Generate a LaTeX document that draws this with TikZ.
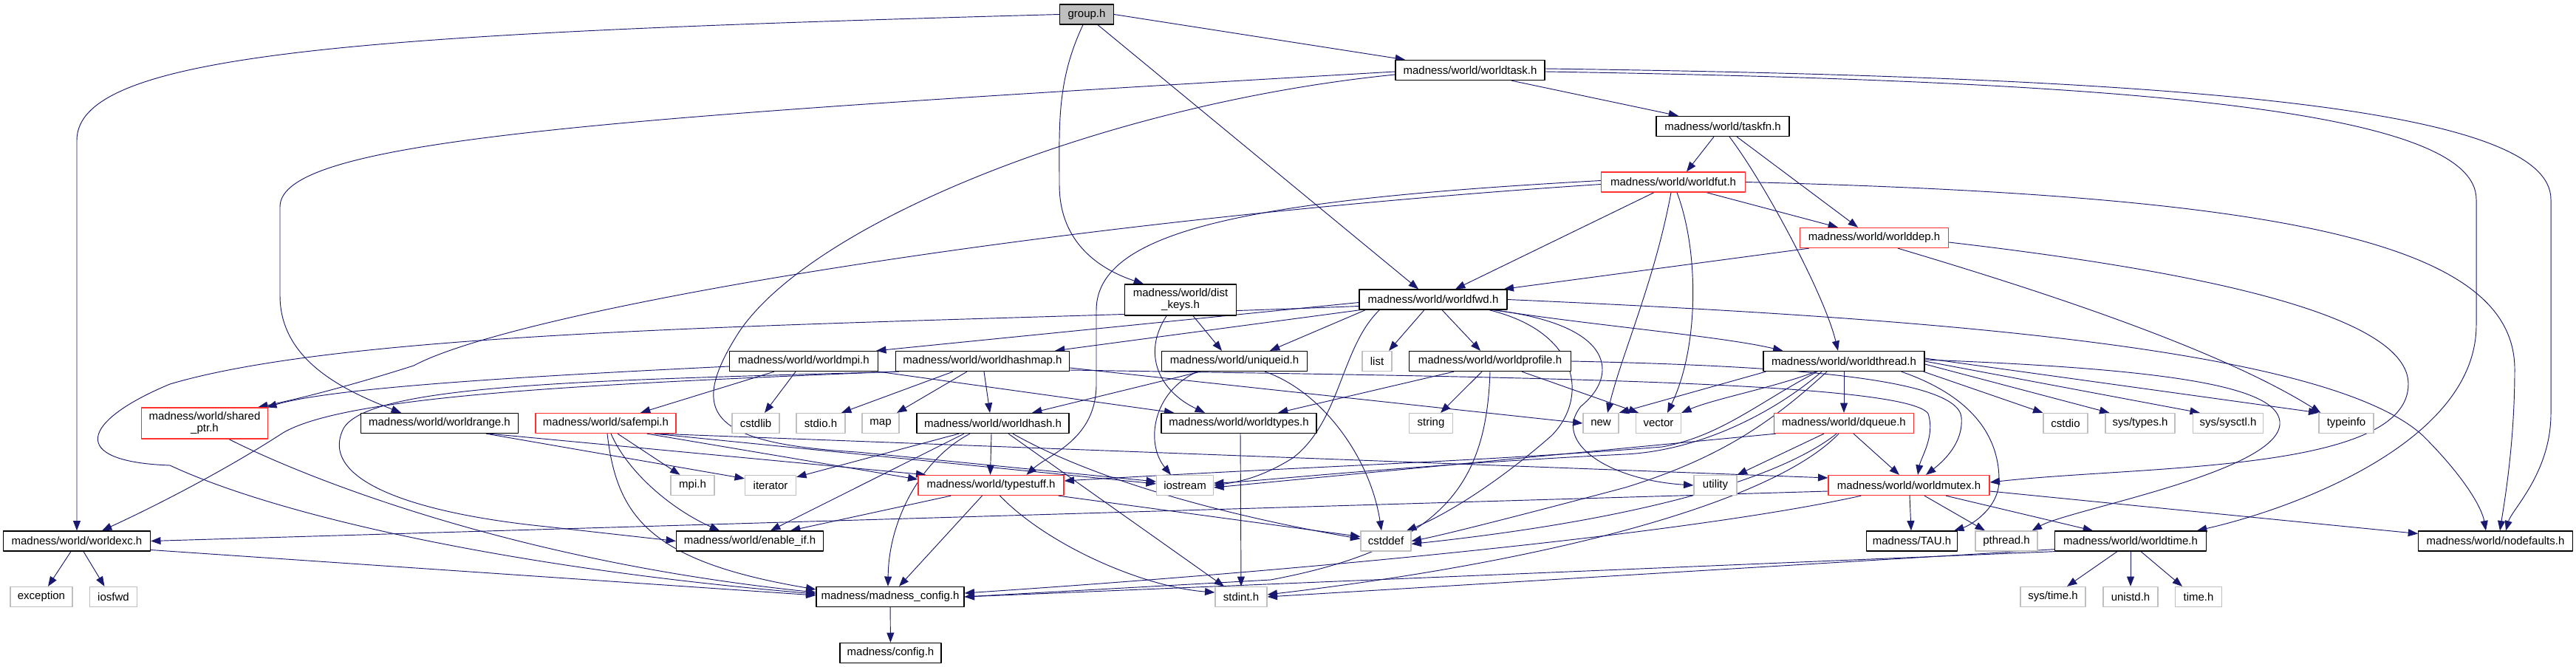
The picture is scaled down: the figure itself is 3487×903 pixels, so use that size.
\documentclass[tikz,border=0pt]{standalone}
\usepackage{fontspec}
\setmainfont{Liberation Sans}
\usetikzlibrary{calc, positioning}
\usetikzlibrary{arrows.meta}

\definecolor{edgeblue}{HTML}{191970}
\definecolor{redline}{HTML}{FF3030}
\definecolor{sysgray}{HTML}{BFBFBF}
\definecolor{rootfill}{HTML}{BFBFBF}
\newcommand{\hdrfont}{\fontsize{12.8}{13.8}\selectfont}

\pgfdeclarelayer{bg}
\pgfdeclarelayer{edges}
\pgfsetlayers{bg,edges,main}

\tikzset{
  hdr/.style={rectangle, draw=black, line width=1.1pt, fill=white,
    minimum height=0.81cm, minimum width=#1*0.03cm, inner sep=1pt, font=\hdrfont},
  redhdr/.style={hdr=#1, draw=redline},
  syshdr/.style={hdr=#1, draw=sysgray},
  dep/.style={draw=edgeblue, line width=0.8pt, -{Triangle[length=0.4cm,width=0.3cm]}},
}

\begin{document}
\begin{tikzpicture}[x=0.03cm,y=-0.03cm,line cap=round,line join=round]
\path[use as bounding box] (0,0) rectangle (3487,903);
\begin{pgfonlayer}{bg}
\fill[white] (0,0) rectangle (3487,903);
\end{pgfonlayer}

% rows of headers
\node[hdr=73, fill=rootfill] (grp) at (1471,19.5) {group.h};
\node[hdr=202] (wtask) at (1990,95) {madness/world/worldtask.h};
\node[hdr=180] (taskfn) at (2332,171) {madness/world/taskfn.h};
\node[redhdr=195] (wfut) at (2265,246.5) {madness/world/worldfut.h};
\node[redhdr=201] (wdep) at (2537,322) {madness/world/worlddep.h};
\node[hdr=151, minimum height=1.26cm, align=center] (distkeys) at (1598,406) {madness/world/dist\\\_keys.h};
\node[hdr=200] (wfwd) at (1940,405.5) {madness/world/worldfwd.h};

\node[hdr=201] (wmpi) at (1088,489) {madness/world/worldmpi.h};
\node[hdr=235] (whashmap) at (1330,489) {madness/world/worldhashmap.h};
\node[hdr=197] (uniqueid) at (1671,489) {madness/world/uniqueid.h};
\node[syshdr=40] (lst) at (1864,489) {list};
\node[hdr=219] (wprofile) at (2017,489) {madness/world/worldprofile.h};
\node[hdr=218] (wthread) at (2496,489) {madness/world/worldthread.h};

\node[redhdr=171, minimum height=1.26cm, align=center] (sharedptr) at (277,573) {madness/world/shared\\\_ptr.h};
\node[hdr=213] (wrange) at (595,573) {madness/world/worldrange.h};
\node[redhdr=190] (safempi) at (820,573) {madness/world/safempi.h};
\node[syshdr=64] (cstdlib) at (1023,573) {cstdlib};
\node[syshdr=66] (stdioh) at (1111,573) {stdio.h};
\node[syshdr=50] (mapn) at (1192,573) {map};
\node[hdr=206] (whash) at (1344,573) {madness/world/worldhash.h};
\node[hdr=210] (wtypes) at (1677,573) {madness/world/worldtypes.h};
\node[syshdr=59] (stringn) at (1937,573) {string};
\node[syshdr=48] (newn) at (2167,573) {new};
\node[syshdr=61] (vectorn) at (2245,573) {vector};
\node[redhdr=189] (dqueue) at (2496,573) {madness/world/dqueue.h};
\node[syshdr=60] (cstdio) at (2796,573) {cstdio};
\node[syshdr=94] (systypes) at (2897,573) {sys/types.h};
\node[syshdr=95] (syssysctl) at (3016,573) {sys/sysctl.h};
\node[syshdr=74] (typeinfo) at (3176,573) {typeinfo};

\node[syshdr=59] (mpih) at (937.5,657) {mpi.h};
\node[syshdr=69] (iterator) at (1043,657) {iterator};
\node[redhdr=197] (typestuff) at (1341.5,657) {madness/world/typestuff.h};
\node[syshdr=77] (iostream) at (1604,657) {iostream};
\node[syshdr=58] (utility) at (2322,657) {utility};
\node[redhdr=218] (wmutex) at (2584,657) {madness/world/worldmutex.h};

\node[hdr=199] (wexc) at (104,732.5) {madness/world/worldexc.h};
\node[hdr=199] (enableif) at (1015,732.5) {madness/world/enable\_if.h};
\node[syshdr=68] (cstddef) at (1876,732.5) {cstddef};
\node[hdr=123] (tau) at (2588,732.5) {madness/TAU.h};
\node[syshdr=84] (pthread) at (2716,732.5) {pthread.h};
\node[hdr=204.5] (wtime) at (2884,732.5) {madness/world/worldtime.h};
\node[hdr=208.5] (nodefaults) at (3378,732.5) {madness/world/nodefaults.h};

\node[syshdr=84] (exception) at (56,808) {exception};
\node[syshdr=63.5] (iosfwd) at (153.5,808) {iosfwd};
\node[hdr=200] (mconfig) at (1205,808) {madness/madness\_config.h};
\node[syshdr=70] (stdint) at (1680,808) {stdint.h};
\node[syshdr=88] (systime) at (2779,808) {sys/time.h};
\node[syshdr=74] (unistd) at (2884,808) {unistd.h};
\node[syshdr=63] (timeh) at (2976,808) {time.h};

\node[hdr=137] (config) at (1205.5,884) {madness/config.h};

\begin{pgfonlayer}{edges}
% group.h
\draw[dep] (grp.west) .. controls (500,45) and (104,70) .. (104,190) -- (wexc.north);
\draw[dep] ($(grp.south)+(-5,0)$) .. controls (1430,110) and (1434,170) .. (1434,250)
  .. controls (1434,330) and (1490,365) .. ($(distkeys.north)+(-50,0)$);
\draw[dep] ($(grp.south)+(15,0)$) -- ($(wfwd.north)+(-20,0)$);
\draw[dep] (grp.east) -- ($(wtask.north)+(-88,0)$);

% worldtask.h
\draw[dep] ($(wtask.west)+(0,2)$) .. controls (800,160) and (379,190) .. (379,280) -- (379,400)
  .. controls (379,490) and (470,530) .. ($(wrange.north)+(-52,0)$);
\draw[dep] ($(wtask.west)+(0,6)$) .. controls (1500,140) and (1100,300) .. (1000,450)
  .. controls (930,560) and (960,600) .. (1160,612) -- ($(iostream.west)+(0,-5)$);
\draw[dep] ($(wtask.south)+(56,0)$) -- ($(taskfn.north)+(-60,0)$);
\draw[dep] ($(wtask.east)+(0,2)$) .. controls (2900,110) and (3352,150) .. (3352,270) -- (3352,440)
  .. controls (3352,600) and (3100,690) .. ($(wtime.north)+(90,0)$);
\draw[dep] ($(wtask.east)+(0,-2)$) .. controls (3000,105) and (3453,150) .. (3453,270) -- (3453,560)
  .. controls (3453,640) and (3400,690) .. ($(nodefaults.north)+(14,0)$);

% taskfn.h
\draw[dep] ($(taskfn.south)+(-12,0)$) -- ($(wfut.north)+(18,0)$);
\draw[dep] ($(taskfn.south)+(19,0)$) -- ($(wdep.north)+(-22,0)$);
\draw[dep] ($(taskfn.south)+(9,0)$) .. controls (2390,250) and (2470,400) .. ($(wthread.north)+(-8,0)$);

% worldfut.h
\draw[dep] ($(wfut.south)+(-26,0)$) -- ($(wfwd.north)+(30,0)$);
\draw[dep] ($(wfut.south)+(45,0)$) -- ($(wdep.north)+(-49,0)$);
\draw[dep] ($(wfut.west)+(0,-2)$) .. controls (1700,270) and (1484,310) .. (1484,420) -- (1484,520)
  .. controls (1484,595) and (1420,615) .. ($(typestuff.north)+(48,0)$);
\draw[dep] ($(wfut.west)+(0,3)$) .. controls (1400,300) and (700,420) .. (560,495)
  .. controls (450,530) and (380,545) .. ($(sharedptr.north east)+(-14,0)$);
\draw[dep] ($(wfut.south)+(-3,0)$) .. controls (2240,380) and (2195,480) .. ($(newn.north)+(9,0)$);
\draw[dep] ($(wfut.south)+(5,0)$) .. controls (2300,340) and (2300,470) .. ($(vectorn.north)+(12,0)$);
\draw[dep] (wfut.east) .. controls (3100,265) and (3404,330) .. (3404,500)
  .. controls (3404,600) and (3390,680) .. ($(nodefaults.north)+(6,0)$);

% worlddep.h
\draw[dep] ($(wdep.south west)+(13,0)$) -- ($(wfwd.north east)+(-5,0)$);
\draw[dep] ($(wdep.south)+(32,0)$) .. controls (2750,390) and (3000,470) .. ($(typeinfo.north west)+(3,0)$);
\draw[dep] ($(wdep.east)+(0,6)$) .. controls (3000,370) and (3260,430) .. (3260,520)
  .. controls (3260,640) and (2900,630) .. ($(wmutex.east)+(0,-4)$);

% dist_keys.h
\draw[dep] ($(distkeys.south)+(17,0)$) -- ($(uniqueid.north)+(-17,0)$);
\draw[dep] ($(distkeys.south)+(-19,0)$) .. controls (1545,480) and (1570,530) .. ($(wtypes.north)+(-46,0)$);

% worldfwd.h
\draw[dep] ($(wfwd.west)+(0,4)$) -- ($(wmpi.north east)+(-3,0)$);
\draw[dep] ($(wfwd.south west)+(2,0)$) -- ($(whashmap.north)+(98,0)$);
\draw[dep] ($(wfwd.west)+(0,9)$) .. controls (1200,440) and (500,440) .. (230,520)
  .. controls (110,570) and (90,625) .. (230,630)
  .. controls (380,700) and (700,770) .. ($(mconfig.west)+(0,-4)$);
\draw[dep] ($(wfwd.south west)+(9,0)$) -- ($(uniqueid.north)+(48,0)$);
\draw[dep] ($(wfwd.south)+(-12,0)$) -- ($(lst.north)+(16,0)$);
\draw[dep] ($(wfwd.south)+(12,0)$) -- ($(wprofile.north)+(-13,0)$);
\draw[dep] ($(wfwd.south east)+(-18,0)$) .. controls (2150,440) and (2330,455) .. ($(wthread.north west)+(27,0)$);
\draw[dep] ($(wfwd.south east)+(-25,0)$) .. controls (2140,450) and (2150,540) .. (2100,590)
  .. controls (2020,660) and (1950,700) .. ($(cstddef.north)+(28,0)$);
\draw[dep] ($(wfwd.south east)+(-20,0)$) .. controls (2190,440) and (2190,510) .. (2140,550)
  .. controls (2100,600) and (2180,650) .. (utility.west);
\draw[dep] ($(wfwd.south west)+(28,0)$) .. controls (1815,470) and (1815,570) .. (1750,620)
  .. controls (1710,645) and (1680,652) .. (iostream.east);
\draw[dep] (wfwd.east) .. controls (2600,430) and (3150,470) .. (3280,590)
  .. controls (3340,650) and (3360,690) .. ($(nodefaults.north)+(-13,0)$);

% worldmpi.h
\draw[dep] ($(wmpi.south west)+(61,0)$) -- ($(safempi.north)+(47,0)$);
\draw[dep] ($(wmpi.south)+(-11,0)$) -- ($(cstdlib.north)+(12,0)$);
\draw[dep] (wmpi.south east) -- ($(wtypes.north west)+(18,0)$);
\draw[dep] ($(wmpi.west)+(0,7)$) .. controls (700,510) and (450,525) .. ($(sharedptr.north east)+(-2,0)$);

% worldhashmap.h
\draw[dep] ($(whashmap.south)+(-21,0)$) -- ($(mapn.north)+(22,0)$);
\draw[dep] ($(whashmap.south)+(-40,0)$) -- ($(stdioh.north)+(28,0)$);
\draw[dep] ($(whashmap.south)+(2,0)$) -- ($(whash.north)+(-4,0)$);
\draw[dep] ($(whashmap.east)+(0,9)$) -- (newn.west);
\draw[dep] ($(whashmap.east)+(0,12)$) .. controls (2000,510) and (2580,515) .. (2610,560)
  .. controls (2620,590) and (2600,620) .. ($(wmutex.north)+(12,0)$);
\draw[dep] (whashmap.south west) .. controls (800,520) and (470,535) .. (383,586)
  .. controls (300,640) and (200,690) .. ($(wexc.north)+(34,0)$);
\draw[dep] ($(whashmap.south west)+(5,0)$) .. controls (800,515) and (500,520) .. (465,580)
  .. controls (430,650) and (560,695) .. (740,713) -- (enableif.west);

% uniqueid.h
\draw[dep] ($(uniqueid.south)+(-46,0)$) -- ($(whash.north)+(53,0)$);
\draw[dep] ($(uniqueid.south)+(-50,0)$) .. controls (1560,530) and (1550,600) .. ($(iostream.north)+(-19,0)$);
\draw[dep] ($(uniqueid.south east)+(-58,0)$) .. controls (1790,530) and (1855,620) .. ($(cstddef.north)+(-6,0)$);

% worldprofile.h
\draw[dep] ($(wprofile.south)+(-11,0)$) -- ($(stringn.north)+(13,0)$);
\draw[dep] ($(wprofile.south)+(43,0)$) -- ($(vectorn.north)+(-27,0)$);
\draw[dep] ($(wprofile.south)+(-49,0)$) -- ($(wtypes.north)+(53,0)$);
\draw[dep] (wprofile.east) .. controls (2400,495) and (2650,510) .. (2655,565)
  .. controls (2658,600) and (2630,625) .. ($(wmutex.north)+(23,0)$);
\draw[dep] (wprofile.south) .. controls (2012,650) and (1960,740) .. (1720,785) -- (mconfig.east);

% worldthread.h
\draw[dep] (wthread) -- (dqueue);
\draw[dep] ($(wthread.south east)+(-2,0)$) -- (cstdio.north west);
\draw[dep] ($(wthread.east)+(0,4)$) -- ($(systypes.north west)+(6,0)$);
\draw[dep] (wthread.east) -- ($(syssysctl.north west)+(10,0)$);
\draw[dep] ($(wthread.east)+(0,-4)$) -- (typeinfo.north west);
\draw[dep] ($(wthread.east)+(0,-2)$) .. controls (2950,500) and (3090,525) .. (3086,575)
  .. controls (3080,640) and (2800,690) .. ($(pthread.north east)+(-8,0)$);
\draw[dep] ($(wthread.south east)+(-32,0)$) .. controls (2680,540) and (2706,600) .. (2706,650)
  .. controls (2706,690) and (2665,712) .. ($(tau.north east)+(-5,0)$);
\draw[dep] ($(wthread.south west)+(4,0)$) -- (newn.north east);
\draw[dep] ($(wthread.south)+(-38,0)$) .. controls (2400,525) and (2320,540) .. (vectorn.north east);
\draw[dep] ($(wthread.south)+(-36,0)$) .. controls (2380,545) and (2330,590) .. (2250,605)
  .. controls (2000,625) and (1800,630) .. ($(typestuff.east)+(0,-6)$);
\draw[dep] ($(wthread.south)+(-30,0)$) .. controls (2400,560) and (2300,610) .. (2200,615)
  .. controls (1900,630) and (1700,652) .. ($(iostream.east)+(0,-3)$);
\draw[dep] ($(wthread.south)+(-23,0)$) .. controls (2400,570) and (2330,620) .. (2200,660)
  .. controls (2050,700) and (1950,725) .. (cstddef.east);

% dqueue.h
\draw[dep] ($(dqueue.south)+(13,0)$) -- ($(wmutex.north)+(-13,0)$);
\draw[dep] ($(dqueue.south)+(-27,0)$) -- (utility.north east);
\draw[dep] ($(dqueue.south west)+(3,0)$) -- ($(iostream.east)+(0,3)$);
\draw[dep] ($(dqueue.south)+(-10,0)$) .. controls (2420,640) and (2250,700) .. ($(cstddef.east)+(0,4)$);
\draw[dep] ($(dqueue.south)+(-7,0)$) .. controls (2400,680) and (2100,760) .. ($(stdint.east)+(0,-3)$);

% worldmutex.h
\draw[dep] ($(wmutex.south)+(1,0)$) -- ($(tau.north)+(-1,0)$);
\draw[dep] ($(wmutex.south)+(21,0)$) -- ($(pthread.north)+(-29,0)$);
\draw[dep] ($(wmutex.south)+(50,0)$) -- ($(wtime.north)+(-51,0)$);
\draw[dep] ($(wmutex.east)+(0,8)$) -- ($(nodefaults.west)+(0,-10)$);
\draw[dep] ($(wmutex.west)+(0,8)$) -- (wexc.east);
\draw[dep] ($(wmutex.south west)+(45,0)$) .. controls (2300,720) and (1800,770) .. ($(mconfig.east)+(0,-5)$);

% worldtime.h
\draw[dep] ($(wtime.south)+(-18,0)$) -- ($(systime.north)+(19,0)$);
\draw[dep] (wtime) -- (unistd);
\draw[dep] ($(wtime.south)+(14,0)$) -- ($(timeh.north)+(-22,0)$);
\draw[dep] (wtime.south west) -- (mconfig.east);
\draw[dep] ($(wtime.south west)+(0,-3)$) -- (stdint.east);

% worldexc.h
\draw[dep] ($(wexc.south)+(-8,0)$) -- ($(exception.north)+(9,0)$);
\draw[dep] ($(wexc.south)+(9,0)$) -- ($(iosfwd.north)+(-12,0)$);
\draw[dep] ($(wexc.east)+(0,12)$) -- ($(mconfig.west)+(0,-2)$);

% shared_ptr.h, worldrange.h
\draw[dep] ($(sharedptr.south)+(33,0)$) .. controls (420,650) and (700,760) .. ($(mconfig.west)+(0,-6)$);
\draw[dep] ($(wrange.south)+(63,0)$) -- ($(iterator.north west)+(0,5)$);
\draw[dep] ($(wrange.south)+(67,0)$) -- ($(typestuff.north west)+(11,0)$);

% safempi.h
\draw[dep] ($(safempi.south)+(16,0)$) -- ($(mpih.north)+(-17,0)$);
\draw[dep] ($(safempi.south)+(7,0)$) .. controls (850,640) and (910,690) .. ($(enableif.north)+(-41,0)$);
\draw[dep] ($(safempi.south)+(2,0)$) .. controls (835,700) and (880,760) .. ($(mconfig.west)+(0,-10)$);
\draw[dep] ($(safempi.south east)+(-30,0)$) -- ($(iostream.west)+(0,-2)$);
\draw[dep] ($(safempi.south east)+(-25,0)$) -- ($(wmutex.west)+(0,-10)$);
\draw[dep] ($(safempi.south east)+(-40,0)$) -- ($(typestuff.west)+(0,-8)$);

% worldhash.h
\draw[dep] ($(whash.south)+(-2,0)$) -- ($(typestuff.north)+(-1,0)$);
\draw[dep] ($(whash.south)+(21,0)$) -- ($(stdint.north)+(-23,0)$);
\draw[dep] ($(whash.south)+(27,0)$) .. controls (1500,660) and (1700,705) .. ($(cstddef.west)+(0,-3)$);
\draw[dep] ($(whash.south)+(-31,0)$) .. controls (1250,620) and (1203,700) .. ($(mconfig.north)+(-3,0)$);
\draw[dep] ($(whash.south)+(-46,0)$) -- ($(iterator.north east)+(0,3)$);
\draw[dep] ($(whash.south)+(-39,0)$) -- ($(enableif.north)+(28,0)$);

% typestuff.h
\draw[dep] ($(typestuff.south)+(-12,0)$) -- ($(mconfig.north)+(12,0)$);
\draw[dep] ($(typestuff.south)+(12,0)$) .. controls (1420,740) and (1550,795) .. ($(stdint.west)+(0,-6)$);
\draw[dep] ($(typestuff.south east)+(-8,0)$) -- ($(cstddef.west)+(0,-6)$);
\draw[dep] ($(typestuff.south west)+(45,0)$) -- ($(enableif.north)+(55,0)$);

% worldtypes.h, madness_config.h
\draw[dep] ($(wtypes.south)+(2,0)$) -- (stdint.north);
\draw[dep] (mconfig) -- (config);
\end{pgfonlayer}
\end{tikzpicture}
\end{document}
